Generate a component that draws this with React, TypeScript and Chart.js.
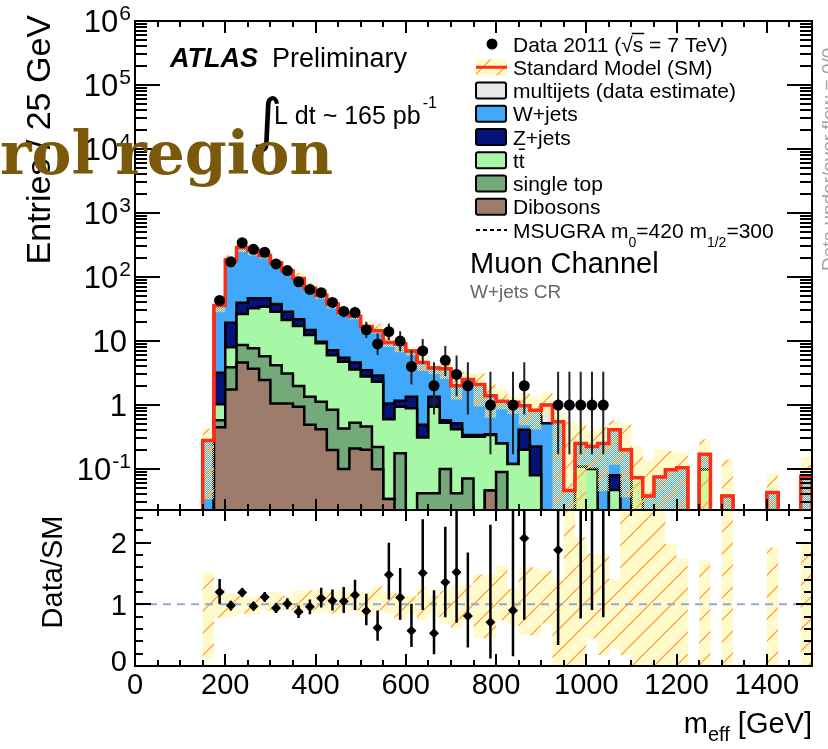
import React, { useEffect, useRef } from 'react';
import { Chart, registerables } from 'chart.js';

Chart.register(...registerables);

const SANS = '"Liberation Sans", Arial, Helvetica, sans-serif';
const SERIF = '"DejaVu Serif", "Liberation Serif", Georgia, serif';

// ---------------- binning (GeV) ----------------
const binEdges = [
  0, 25, 50, 75, 100, 125, 150, 175, 200, 225,
  250, 275, 300, 325, 350, 375, 400, 425, 450, 475,
  500, 525, 550, 575, 600, 625, 650, 675, 700, 725,
  750, 775, 800, 825, 850, 875, 900, 925, 950, 975,
  1000, 1025, 1050, 1075, 1100, 1125, 1150, 1175, 1200, 1225,
  1250, 1275, 1300, 1325, 1350, 1375, 1400, 1425, 1450, 1475,
  1500,
];

// ---------------- stacked SM (cumulative levels, entries / 25 GeV) ----------------
const dibosonsLevel = [
  0, 0, 0, 0, 0, 0, 0, 0.45, 1.75, 4.6,
  3.7, 2.45, 1.06, 1.06, 0.94, 0.49, 0.42, 0.198, 0.10, 0.21,
  0.20, 0.099, 0.034, 0, 0, 0, 0, 0, 0, 0,
  0, 0.046, 0, 0, 0, 0, 0, 0, 0, 0,
  0, 0, 0, 0, 0, 0, 0, 0, 0, 0,
  0, 0, 0, 0, 0, 0, 0, 0, 0, 0,
];
const singleTopLevel = [
  0, 0, 0, 0, 0, 0, 0, 0.58, 3.9, 8.65,
  7.7, 5.8, 4.2, 3.1, 1.98, 1.35, 1.13, 0.84, 0.43, 0.53,
  0.46, 0.22, 0.034, 0.176, 0, 0.042, 0.042, 0.10, 0.042, 0.071,
  0, 0.046, 0.09, 0, 0, 0, 0, 0, 0, 0,
  0, 0, 0, 0, 0, 0, 0, 0, 0, 0,
  0, 0, 0, 0, 0, 0, 0, 0, 0, 0,
];
const ttbarLevel = [
  0, 0, 0, 0, 0, 0, 0, 1.03, 7.96, 26.4,
  32.4, 34.4, 28.7, 21.3, 17.1, 12.4, 9.2, 6.0, 4.75, 3.6,
  2.8, 2.3, 0.60, 0.94, 0.89, 0.31, 0.94, 0.53, 0.42, 0.32,
  0.32, 0.34, 0.25, 0.12, 0.20, 0.08, 0, 0, 0, 0.109,
  0.10, 0, 0.047, 0, 0.073, 0, 0, 0, 0, 0,
  0.098, 0, 0, 0, 0, 0, 0, 0, 0, 0,
];
const zjetsLevel = [
  0, 0, 0, 0, 0, 0, 0, 3.2, 19.3, 39.7,
  46.4, 46.4, 37.9, 28.7, 21.8, 14.9, 9.75, 7.2, 5.5, 4.6,
  3.5, 2.9, 1.06, 1.17, 1.35, 0.49, 1.35, 0.58, 0.52, 0.34,
  0.34, 0.35, 0.25, 0.12, 0.41, 0.225, 0, 0, 0, 0.109,
  0.10, 0, 0.08, 0, 0.073, 0, 0, 0, 0, 0,
  0.098, 0, 0, 0, 0, 0, 0, 0, 0, 0,
];
const wjetsLevel = [
  0, 0, 0, 0, 0, 0, 0.28, 36, 185, 289,
  262, 217, 165, 125, 95, 67, 52, 38, 27.6, 24.3,
  16.9, 14.5, 9.5, 9.0, 7.0, 4.6, 3.8, 3.7, 2.0, 2.5,
  2.1, 1.4, 1.15, 1.1, 0.97, 0.83, 0.52, 0.55, 0.046, 0.25,
  0.225, 0.25, 0.41, 0.2, 0.073, 0.038, 0.075, 0.097, 0.105, 0,
  0.17, 0, 0.038, 0, 0, 0, 0.043, 0, 0, 0.077,
];
// total SM (multijets on top of the stack)
const smTotal = [
  0, 0, 0, 0, 0, 0, 0.28, 36, 185, 289,
  262, 217, 165, 125, 95, 67, 52, 38, 27.6, 24.3,
  16.9, 14.5, 9.5, 9.0, 7.0, 4.6, 3.8, 3.7, 2.0, 2.5,
  2.1, 1.4, 1.15, 1.1, 0.97, 0.83, 1.0, 0.55, 0.046, 0.25,
  0.225, 0.25, 0.41, 0.2, 0.073, 0.038, 0.075, 0.097, 0.105, 0,
  0.17, 0, 0.038, 0, 0, 0, 0.043, 0, 0, 0.077,
];
// SM uncertainty, relative to SM (upper / lower edge of band)
const smRelUp = [
  null, null, null, null, null, null, 1.52, 1.24, 1.18, 1.13,
  1.11, 1.13, 1.20, 1.14, 1.22, 1.23, 1.25, 1.20, 1.23, 1.17,
  1.20, 1.29, 1.20, 1.18, 1.13, 1.27, 1.14, 1.23, 1.32, 1.31,
  1.49, 1.49, 1.63, 1.25, 1.60, 1.60, 1.55, 1.39, 12, 2.09,
  1.82, 1.82, 1.41, 2.5, 3.1, 3.7, 2.75, 1.98, 1.74, null,
  1.71, null, 3.7, null, null, null, 1.92, null, null, 1.98,
];
const smRelDown = [
  null, null, null, null, null, null, 0.12, 0.78, 0.80, 0.85,
  0.83, 0.90, 0.88, 0.90, 0.88, 0.90, 0.88, 0.85, 0.90, 0.90,
  0.80, 0.90, 0.85, 0.74, 0.85, 0.74, 0.80, 0.69, 0.61, 0.74,
  0.45, 0.45, 0.74, 0.66, 0.50, 0.50, 0.69, 0, 0, 0,
  0.45, 0.18, 0.285, 0.18, 0, 0, 0, 0, 0, null,
  0, null, 0, null, null, null, 0, null, null, 0,
];
// MSUGRA m0=420 m1/2=300 (below the displayed range everywhere)
const msugraValues = [
  0, 0, 0, 0, 0, 0, 0, 0, 0, 0,
  0, 0, 0, 0, 0, 0, 0, 0, 0, 0,
  0, 0, 0, 0, 0, 0, 0, 0, 0, 0,
  0, 0, 0, 0, 0, 0, 0, 0, 0, 0,
  0, 0, 0, 0, 0, 0, 0, 0, 0, 0,
  0, 0, 0, 0, 0, 0, 0, 0, 0, 0,
];

// ---------------- data 2011 ----------------
const dataCounts = [
  0, 0, 0, 0, 0, 0, 0, 43, 173, 344,
  271, 243, 160, 126, 84, 64, 57, 40, 29, 28,
  15, 9, 14, 10, 4, 7, 2, 5, 3, 2,
  0, 1, 0, 1, 2, 0, 0, 1, 1, 1,
  1, 1, 0, 0, 0, 0, 0, 0, 0, 0,
  0, 0, 0, 0, 0, 0, 0, 0, 0, 0,
];
const dataErrUp = [
  0, 0, 0, 0, 0, 0, 0, 7.6, 14.2, 19.6,
  17.5, 16.6, 13.7, 12.3, 10.2, 9.0, 8.6, 7.4, 6.4, 6.3,
  4.96, 4.11, 4.83, 4.27, 3.16, 3.77, 2.64, 3.38, 2.92, 2.64,
  0, 2.3, 0, 2.3, 2.64, 0, 0, 2.3, 2.3, 2.3,
  2.3, 2.3, 0, 0, 0, 0, 0, 0, 0, 0,
  0, 0, 0, 0, 0, 0, 0, 0, 0, 0,
];
const dataErrDown = [
  0, 0, 0, 0, 0, 0, 0, 6.5, 13.1, 18.5,
  16.5, 15.6, 12.6, 11.2, 9.2, 8.0, 7.5, 6.3, 5.4, 5.3,
  3.83, 2.94, 3.7, 3.11, 1.91, 2.58, 1.29, 2.16, 1.63, 1.29,
  0, 0.83, 0, 0.83, 1.29, 0, 0, 0.83, 0.83, 0.83,
  0.83, 0.83, 0, 0, 0, 0, 0, 0, 0, 0,
  0, 0, 0, 0, 0, 0, 0, 0, 0, 0,
];

// ---------------- Data / SM ----------------
const ratioValues = [
  null, null, null, null, null, null, null, 1.20, 0.98, 1.19,
  0.97, 1.12, 0.94, 1.01, 0.88, 0.96, 1.10, 1.06, 1.05, 1.15,
  0.89, 0.62, 1.48, 1.11, 0.57, 1.51, 0.53, 1.36, 1.52, 0.81,
  null, 0.71, null, 0.90, 2.07, null, null, 1.88, 21.7, 4.0,
  4.4, 4.0, null, null, null, null, null, null, null, null,
  null, null, null, null, null, null, null, null, null, null,
];
const ratioLow = [
  null, null, null, null, null, null, null, 1.01, 0.90, 1.12,
  0.90, 1.04, 0.86, 0.92, 0.78, 0.84, 0.95, 0.90, 0.86, 0.91,
  0.66, 0.41, 1.08, 0.75, 0.31, 0.91, 0.19, 0.79, 0.70, 0.30,
  null, 0.12, null, 0.16, 0.75, null, null, 0.34, 3.7, 0.77,
  0.91, 0.79, null, null, null, null, null, null, null, null,
  null, null, null, null, null, null, null, null, null, null,
];
const ratioHigh = [
  null, null, null, null, null, null, null, 1.41, 1.06, 1.26,
  1.04, 1.20, 1.02, 1.10, 0.98, 1.08, 1.27, 1.24, 1.28, 1.40,
  1.17, 0.90, 2.00, 1.59, 1.01, 2.38, 1.23, 2.26, 2.98, 1.84,
  null, 2.29, null, 3.0, 4.8, null, null, 6.0, 72, 13.2,
  14.7, 13.2, null, null, null, null, null, null, null, null,
  null, null, null, null, null, null, null, null, null, null,
];

// ---------------- axes / ticks / texts ----------------
const xMajorTicks = [0, 200, 400, 600, 800, 1000, 1200, 1400];
const xTickLabels = ['0', '200', '400', '600', '800', '1000', '1200', '1400'];
const yDecades = [0.1, 1, 10, 100, 1e3, 1e4, 1e5, 1e6];
const yTickLabels = [['10', '-1'], ['1', ''], ['10', ''], ['10', '2'], ['10', '3'], ['10', '4'], ['10', '5'], ['10', '6']];
const ratioTicks = [0, 1, 2];
const ratioTickLabels = ['0', '1', '2'];
const legendLabels = [
  'Data 2011', 'Standard Model (SM)', 'multijets (data estimate)', 'W+jets', 'Z+jets',
  'tt', 'single top', 'Dibosons', 'MSUGRA',
];
const yTitle = 'Entries / 25 GeV';
const ratioTitle = 'Data/SM';
const overlayTitle = 'Control region';

const Y_MIN = 0.0229;
const Y_MAX = 1e6;
const R_MIN = 0;
const R_MAX = 2.53;
const FLOOR = 1e-4; // empty bins: drawn below the axis minimum

const COL = {
  multijets: '#e8e8e8',
  wjets: '#42a8fb',
  zjets: '#04127a',
  ttbar: '#a6f7a6',
  singleTop: '#74a97a',
  dibosons: '#9d7c6c',
  sm: '#ff2d14',
  unity: '#8fa9df',
};

function binCenter(i: number) {
  return (binEdges[i] + binEdges[i + 1]) / 2;
}

function histPoints(values: number[], floor: number) {
  const last = binEdges.length - 1;
  const f = (v: number) => (v > 0 ? v : floor);
  const pts: any[] = [{ x: binEdges[0], y: floor }];
  values.forEach((v, i) => pts.push({ x: binEdges[i], y: f(v) }));
  pts.push({ x: binEdges[last], y: f(values[values.length - 1]) });
  pts.push({ x: binEdges[last], y: floor });
  return pts;
}

function makeBandPattern(): any {
  const c = document.createElement('canvas');
  const S = 22;
  c.width = S;
  c.height = S;
  const g = c.getContext('2d');
  if (!g) return 'rgba(255,245,150,0.5)';
  g.fillStyle = '#fff595';
  for (let y = 0; y < S; y++) for (let x = y % 2; x < S; x += 2) g.fillRect(x, y, 1, 1);
  g.strokeStyle = '#ffa64a';
  g.lineWidth = 1.3;
  g.beginPath();
  g.moveTo(-2, S + 2); g.lineTo(S + 2, -2);
  g.moveTo(-6, 6); g.lineTo(6, -6);
  g.moveTo(S - 6, S + 6); g.lineTo(S + 6, S - 6);
  g.stroke();
  return g.createPattern(c, 'repeat');
}

function layerDataset(label: string, values: number[], color: string, order: number) {
  return {
    label,
    data: histPoints(values, FLOOR),
    stepped: true,
    borderColor: '#000',
    borderWidth: 2.5,
    backgroundColor: color,
    fill: 'start',
    pointRadius: 0,
    order,
  };
}

function drawPow(ctx: CanvasRenderingContext2D, base: string, exp: string, right: number, cy: number, size: number) {
  ctx.textBaseline = 'alphabetic';
  ctx.fillStyle = '#000';
  const by = cy + size * 0.36;
  if (!exp) {
    ctx.font = `${size}px ${SANS}`;
    ctx.textAlign = 'right';
    ctx.fillText(base, right, by);
    return;
  }
  const es = Math.round(size * 0.68);
  ctx.font = `${es}px ${SANS}`;
  const we = ctx.measureText(exp).width;
  ctx.textAlign = 'left';
  ctx.fillText(exp, right + 3 - we, cy - 1);
  ctx.font = `${size}px ${SANS}`;
  ctx.textAlign = 'right';
  ctx.fillText(base, right + 2 - we, by);
}

function drawTopDecor(chart: any, pattern: any) {
  const { ctx, chartArea: a } = chart;
  const xs = chart.scales.x;
  const ys = chart.scales.y;
  ctx.save();
  ctx.strokeStyle = '#000';
  ctx.lineWidth = 2;
  ctx.beginPath();
  for (let v = 0; v <= 1500; v += 50) {
    const px = Math.round(xs.getPixelForValue(v));
    const major = xMajorTicks.includes(v);
    ctx.moveTo(px, a.top); ctx.lineTo(px, a.top + (major ? 12 : 6));
    ctx.moveTo(px, a.bottom); ctx.lineTo(px, a.bottom - (major ? 11 : 6));
  }
  for (let e = -2; e < 6; e++) {
    for (let k = 1; k < 10; k++) {
      const v = k * Math.pow(10, e);
      if (v < Y_MIN || v > Y_MAX) continue;
      const py = Math.round(ys.getPixelForValue(v));
      const len = k === 1 ? 25 : 12;
      ctx.moveTo(a.left, py); ctx.lineTo(a.left + len, py);
      ctx.moveTo(a.right, py); ctx.lineTo(a.right - len, py);
    }
  }
  ctx.stroke();
  ctx.strokeRect(a.left, a.top, a.right - a.left, a.bottom - a.top);

  // y tick labels
  yDecades.forEach((v, i) => {
    const [b, e] = yTickLabels[i];
    drawPow(ctx, b, e, e ? 128 : 127, ys.getPixelForValue(v), 31);
  });

  // y title
  ctx.save();
  ctx.translate(50, 15);
  ctx.rotate(-Math.PI / 2);
  ctx.font = `34px ${SANS}`;
  ctx.textAlign = 'right';
  ctx.textBaseline = 'alphabetic';
  ctx.fillStyle = '#000';
  ctx.fillText(yTitle, 0, 0);
  ctx.restore();

  // ATLAS Preliminary
  ctx.fillStyle = '#000';
  ctx.textAlign = 'left';
  ctx.textBaseline = 'alphabetic';
  ctx.font = `italic bold 27px ${SANS}`;
  ctx.fillText('ATLAS', 170, 67);
  ctx.font = `27px ${SANS}`;
  ctx.fillText('Preliminary', 272, 67);

  // luminosity
  ctx.font = `58px "DejaVu Sans", ${SANS}`;
  ctx.fillText('\u222B', 252, 140);
  ctx.font = `25px ${SANS}`;
  const lumi = 'L dt ~ 165 pb';
  ctx.fillText(lumi, 274, 124);
  const wl = ctx.measureText(lumi).width;
  ctx.font = `16px ${SANS}`;
  ctx.fillText('-1', 274 + wl + 2, 108);

  // legend
  const rows = [44, 67.25, 90.5, 113.75, 137, 160.25, 183.5, 206.75, 230];
  const tx = 513;
  ctx.font = `21px ${SANS}`;
  const base = (cy: number) => cy + 7.5;
  // data
  ctx.beginPath();
  ctx.arc(492, rows[0], 5.5, 0, Math.PI * 2);
  ctx.fill();
  let x = tx;
  const p1 = legendLabels[0] + ' (';
  ctx.fillText(p1, x, base(rows[0]));
  x += ctx.measureText(p1).width;
  ctx.fillText('\u221A', x, base(rows[0]));
  x += ctx.measureText('\u221A').width;
  const sx = x;
  ctx.fillText('s = 7 TeV)', x, base(rows[0]));
  const ws = ctx.measureText('s').width;
  ctx.lineWidth = 1.5;
  ctx.beginPath();
  ctx.moveTo(sx - 1, rows[0] - 10.5);
  ctx.lineTo(sx + ws + 1, rows[0] - 10.5);
  ctx.stroke();
  // SM
  ctx.fillStyle = pattern;
  ctx.fillRect(476, rows[1] - 8, 31, 16);
  ctx.strokeStyle = COL.sm;
  ctx.lineWidth = 3;
  ctx.beginPath();
  ctx.moveTo(476, rows[1]);
  ctx.lineTo(507, rows[1]);
  ctx.stroke();
  ctx.fillStyle = '#000';
  ctx.fillText(legendLabels[1], tx, base(rows[1]));
  // boxes
  const boxCols = [COL.multijets, COL.wjets, COL.zjets, COL.ttbar, COL.singleTop, COL.dibosons];
  boxCols.forEach((c, i) => {
    const cy = rows[2 + i];
    ctx.fillStyle = c;
    ctx.beginPath();
    ctx.roundRect(476, cy - 8, 30, 16, 2);
    ctx.fill();
    ctx.strokeStyle = '#000';
    ctx.lineWidth = 2;
    ctx.stroke();
    ctx.fillStyle = '#000';
    ctx.fillText(legendLabels[2 + i], tx, base(cy));
  });
  // ttbar bar
  {
    const wt = ctx.measureText('t').width;
    ctx.lineWidth = 1.5;
    ctx.beginPath();
    ctx.moveTo(tx + wt, rows[5] - 11);
    ctx.lineTo(tx + 2 * wt, rows[5] - 11);
    ctx.stroke();
  }
  // MSUGRA
  ctx.setLineDash([4, 3]);
  ctx.lineWidth = 2;
  ctx.beginPath();
  ctx.moveTo(476, rows[8]);
  ctx.lineTo(507, rows[8]);
  ctx.stroke();
  ctx.setLineDash([]);
  {
    const parts: [string, boolean][] = [[legendLabels[8] + ' m', false], ['0', true], ['=420 m', false], ['1/2', true], ['=300', false]];
    let xx = tx;
    parts.forEach(([t, sub]) => {
      ctx.font = sub ? `14px ${SANS}` : `21px ${SANS}`;
      ctx.fillText(t, xx, sub ? base(rows[8]) + 9 : base(rows[8]));
      xx += ctx.measureText(t).width;
    });
  }
  ctx.font = `29px ${SANS}`;
  ctx.fillText('Muon Channel', 470, 273);
  ctx.font = `19px ${SANS}`;
  ctx.fillStyle = '#666';
  ctx.fillText('W+jets CR', 470, 298);

  // under/overflow note
  ctx.save();
  ctx.translate(835, 271);
  ctx.rotate(-Math.PI / 2);
  ctx.font = `19px ${SANS}`;
  ctx.fillStyle = '#a0a0a0';
  ctx.textAlign = 'left';
  ctx.fillText('Data under/over flow = 0/0', 0, 0);
  ctx.restore();

  ctx.restore();
}

function drawBottomDecor(chart: any) {
  const { ctx, chartArea: a } = chart;
  const xs = chart.scales.x;
  const ys = chart.scales.y;
  ctx.save();
  ctx.strokeStyle = '#000';
  ctx.lineWidth = 2;
  ctx.beginPath();
  for (let v = 0; v <= 1500; v += 50) {
    const px = Math.round(xs.getPixelForValue(v));
    const major = xMajorTicks.includes(v);
    ctx.moveTo(px, a.top); ctx.lineTo(px, a.top + (major ? 11 : 6));
    ctx.moveTo(px, a.bottom); ctx.lineTo(px, a.bottom - (major ? 12 : 6));
  }
  for (let k = 0; k <= 12; k++) {
    const v = k * 0.2;
    const py = Math.round(ys.getPixelForValue(v));
    const major = Math.abs(v - Math.round(v)) < 1e-6;
    const len = major ? 16 : 8;
    ctx.moveTo(a.left, py); ctx.lineTo(a.left + len, py);
    ctx.moveTo(a.right, py); ctx.lineTo(a.right - len, py);
  }
  ctx.stroke();
  ctx.strokeRect(a.left, a.top, a.right - a.left, a.bottom - a.top);

  ctx.fillStyle = '#000';
  ctx.textBaseline = 'alphabetic';
  // ratio labels
  ctx.font = `29px ${SANS}`;
  ctx.textAlign = 'right';
  ratioTicks.forEach((v, i) => {
    const cy = v === 0 ? ys.getPixelForValue(v) - 6 : ys.getPixelForValue(v);
    ctx.fillText(ratioTickLabels[i], 127, cy + 10.5);
  });
  // x labels
  ctx.textAlign = 'center';
  xMajorTicks.forEach((v, i) => {
    ctx.fillText(xTickLabels[i], xs.getPixelForValue(v), 693.5);
  });
  // x title m_eff [GeV]
  {
    const big = `29px ${SANS}`;
    const small = `20px ${SANS}`;
    ctx.font = big;
    const w1 = ctx.measureText('m').width;
    const w3 = ctx.measureText(' [GeV]').width;
    ctx.font = small;
    const w2 = ctx.measureText('eff').width;
    let x = a.right - (w1 + w2 + w3);
    ctx.textAlign = 'left';
    ctx.font = big;
    ctx.fillText('m', x, 733);
    x += w1;
    ctx.font = small;
    ctx.fillText('eff', x, 741);
    x += w2;
    ctx.font = big;
    ctx.fillText(' [GeV]', x, 733);
  }
  // ratio title
  ctx.save();
  ctx.translate(62, 572);
  ctx.rotate(-Math.PI / 2);
  ctx.font = `29px ${SANS}`;
  ctx.textAlign = 'center';
  ctx.fillText(ratioTitle, 0, 0);
  ctx.restore();

  // overlay heading (mostly outside the page on the left)
  ctx.font = `bold 100px ${SERIF}`;
  const wr = ctx.measureText('rol region').width;
  const fs = (100 * 333) / wr;
  ctx.font = `bold ${fs}px ${SERIF}`;
  ctx.fillStyle = '#7a5a0a';
  ctx.textAlign = 'right';
  ctx.fillText(overlayTitle, 333, 174);
  ctx.restore();
}

export default function App() {
  const topRef = useRef<HTMLCanvasElement>(null);
  const botRef = useRef<HTMLCanvasElement>(null);

  useEffect(() => {
    if (!topRef.current || !botRef.current) return;
    const pattern = makeBandPattern();

    const bandHi = smTotal.map((v, i) => (v > 0 && smRelUp[i] != null ? v * (smRelUp[i] as number) : 0));
    const bandLo = smTotal.map((v, i) => (v > 0 && smRelDown[i] != null ? v * (smRelDown[i] as number) : 0));

    const dataPts: any[] = [];
    const errPts: any[] = [];
    dataCounts.forEach((n, i) => {
      if (n > 0) {
        const c = binCenter(i);
        dataPts.push({ x: c, y: n });
        errPts.push({ x: c, y: n - dataErrDown[i] }, { x: c, y: n + dataErrUp[i] }, { x: c, y: null });
      }
    });

    const top = new Chart(topRef.current, {
      type: 'line',
      data: {
        datasets: [
          { label: 'Data 2011', data: dataPts, showLine: false, pointRadius: 5.5, pointStyle: 'circle', pointBackgroundColor: '#000', pointBorderColor: '#000', pointBorderWidth: 0, order: 0 },
          { label: 'err', data: errPts, borderColor: '#222', borderWidth: 2, pointRadius: 0, fill: false, spanGaps: false, order: 1 },
          { label: 'MSUGRA', data: histPoints(msugraValues, Y_MIN), stepped: true, borderColor: '#000', borderWidth: 2, borderDash: [5, 4], fill: false, pointRadius: 0, order: 2 },
          { label: 'SM', data: histPoints(smTotal, FLOOR), stepped: true, borderColor: COL.sm, borderWidth: 3.5, fill: false, pointRadius: 0, order: 3 },
          { label: 'bandHi', data: histPoints(bandHi, FLOOR), stepped: true, borderWidth: 0, borderColor: 'rgba(0,0,0,0)', backgroundColor: pattern, fill: '+1', pointRadius: 0, order: 4 },
          { label: 'bandLo', data: histPoints(bandLo, FLOOR), stepped: true, borderWidth: 0, borderColor: 'rgba(0,0,0,0)', fill: false, pointRadius: 0, order: 5 },
          layerDataset('Dibosons', dibosonsLevel, COL.dibosons, 6),
          layerDataset('single top', singleTopLevel, COL.singleTop, 7),
          layerDataset('ttbar', ttbarLevel, COL.ttbar, 8),
          layerDataset('Z+jets', zjetsLevel, COL.zjets, 9),
          layerDataset('W+jets', wjetsLevel, COL.wjets, 10),
          layerDataset('multijets', smTotal, COL.multijets, 11),
        ] as any,
      },
      options: {
        responsive: false,
        animation: false,
        events: [],
        layout: { padding: { left: 135, top: 21, right: 16, bottom: 239 } },
        plugins: { legend: { display: false }, tooltip: { enabled: false } },
        scales: {
          x: { type: 'linear', min: 0, max: 1500, display: false },
          y: { type: 'logarithmic', min: Y_MIN, max: Y_MAX, display: false },
        },
      } as any,
      plugins: [{ id: 'topDecor', afterDraw: (c: any) => drawTopDecor(c, pattern) }],
    });

    const rBandHi = smRelUp.map((v) => (v == null ? 0 : v));
    const rBandLo = smRelDown.map((v, i) => (smRelUp[i] == null || v == null ? 0 : v));
    const rPts: any[] = [];
    const rErr: any[] = [];
    ratioValues.forEach((r, i) => {
      if (r == null) return;
      const c = binCenter(i);
      rPts.push({ x: c, y: r });
      rErr.push({ x: c, y: ratioLow[i] }, { x: c, y: ratioHigh[i] }, { x: c, y: null });
    });

    const bot = new Chart(botRef.current, {
      type: 'line',
      data: {
        datasets: [
          { label: 'ratio', data: rPts, showLine: false, pointRadius: 5, pointStyle: 'rectRot', pointBackgroundColor: '#000', pointBorderColor: '#000', pointBorderWidth: 0, order: 0, clip: 0 },
          { label: 'rErr', data: rErr, borderColor: '#000', borderWidth: 2.5, pointRadius: 0, fill: false, spanGaps: false, order: 1, clip: 0 },
          { label: 'unity', data: [{ x: 0, y: 1 }, { x: 1500, y: 1 }], borderColor: COL.unity, borderWidth: 2, borderDash: [8, 6], pointRadius: 0, fill: false, order: 2 },
          { label: 'rBandHi', data: histPoints(rBandHi, 0), stepped: true, borderWidth: 0, borderColor: 'rgba(0,0,0,0)', backgroundColor: pattern, fill: '+1', pointRadius: 0, order: 3, clip: 0 },
          { label: 'rBandLo', data: histPoints(rBandLo, 0), stepped: true, borderWidth: 0, borderColor: 'rgba(0,0,0,0)', fill: false, pointRadius: 0, order: 4, clip: 0 },
        ] as any,
      },
      options: {
        responsive: false,
        animation: false,
        events: [],
        layout: { padding: { left: 135, top: 510, right: 16, bottom: 83 } },
        plugins: { legend: { display: false }, tooltip: { enabled: false } },
        scales: {
          x: { type: 'linear', min: 0, max: 1500, display: false },
          y: { type: 'linear', min: R_MIN, max: R_MAX, display: false },
        },
      } as any,
      plugins: [{ id: 'bottomDecor', afterDraw: (c: any) => drawBottomDecor(c) }],
    });

    return () => {
      top.destroy();
      bot.destroy();
    };
  }, []);

  return (
    <div style={{ position: 'fixed', left: 0, top: 0, width: 828, height: 749, background: '#fff', overflow: 'hidden' }}>
      <canvas ref={topRef} width={828} height={749} style={{ position: 'absolute', left: 0, top: 0 }} />
      <canvas ref={botRef} width={828} height={749} style={{ position: 'absolute', left: 0, top: 0 }} />
    </div>
  );
}
